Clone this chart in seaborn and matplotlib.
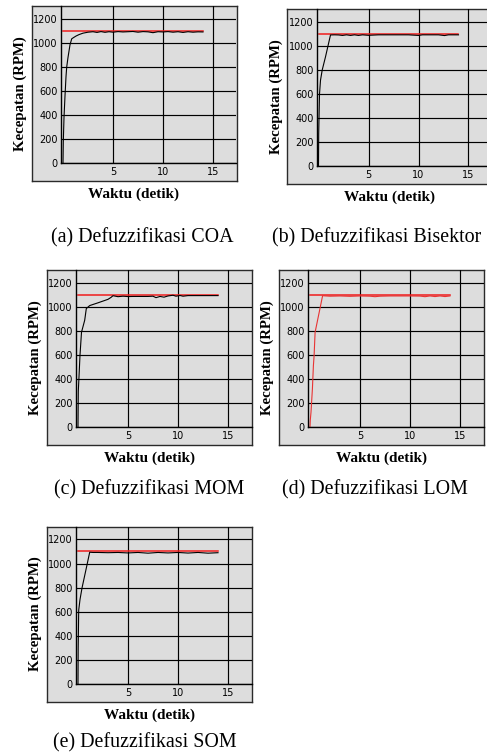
import matplotlib
matplotlib.use("Agg")
import matplotlib.pyplot as plt
import seaborn as sns
import pandas as pd

# ---- measured speed responses (time in s, speed in RPM) ----
t_coa = [0, 0.03, 0.1, 0.2, 0.3, 0.37, 0.5, 0.7, 0.87, 1.05, 1.3, 1.6, 2.0, 2.5,
         3.0, 3.4, 3.8, 4.2, 4.6, 5.0, 5.5, 6.0, 6.5, 7.0, 7.5, 8.0, 8.5, 9.0,
         9.5, 10.0, 10.5, 11.0, 11.5, 12.0, 12.5, 13.0, 13.5, 14.0]
v_coa = [0, 180, 380, 560, 720, 800, 880, 985, 1035, 1045, 1058, 1070, 1082, 1090,
         1094, 1088, 1095, 1089, 1094, 1090, 1095, 1092, 1094, 1096, 1090, 1095, 1093, 1086,
         1094, 1092, 1095, 1090, 1094, 1088, 1094, 1090, 1093, 1092]

t_bis = [0, 0.02, 0.1, 0.2, 0.37, 0.7, 1.2, 1.6, 2.0, 2.4, 2.8, 3.2, 3.6, 4.0,
         4.4, 5.0, 6.0, 7.0, 8.0, 9.0, 10.0, 10.4, 11.0, 12.0, 12.6, 13.0, 14.0]
v_bis = [0, 270, 600, 715, 800, 910, 1092, 1093, 1092, 1088, 1093, 1088, 1093, 1088,
         1093, 1089, 1093, 1093, 1093, 1093, 1088, 1093, 1093, 1093, 1087, 1093, 1093]

t_mom = [0, 0.03, 0.1, 0.2, 0.35, 0.67, 0.83, 1.17, 2.0, 3.0, 3.3, 3.5, 4.0, 4.5,
         5.0, 5.5, 6.0, 6.5, 7.0, 7.5, 7.8, 8.2, 8.6, 9.0, 9.5, 9.8, 10.2, 10.5,
         11.0, 12.0, 13.0, 14.0]
v_mom = [0, 300, 420, 600, 790, 890, 987, 1012, 1035, 1064, 1080, 1094, 1086, 1090,
         1087, 1088, 1088, 1088, 1088, 1090, 1078, 1088, 1082, 1092, 1098, 1090, 1096, 1090,
         1095, 1095, 1095, 1095]

t_lom = [0, 0.03, 0.1, 0.24, 0.34, 0.41, 0.51, 1.26, 2.0, 3.0, 4.0, 5.0, 6.0, 6.5,
         7.0, 8.0, 9.0, 10.0, 11.0, 11.5, 12.0, 12.5, 13.0, 13.5, 14.0]
v_lom = [0, 60, 125, 318, 512, 596, 790, 1094, 1090, 1092, 1089, 1092, 1090, 1086,
         1090, 1092, 1092, 1092, 1091, 1086, 1092, 1087, 1092, 1087, 1092]

t_som = [0, 0.02, 0.07, 0.2, 0.4, 0.8, 1.17, 1.5, 2.0, 3.0, 4.0, 5.0, 6.0, 7.0,
         8.0, 9.0, 10.0, 11.0, 12.0, 13.0, 14.0]
v_som = [0, 300, 611, 700, 796, 950, 1094, 1092, 1092, 1090, 1092, 1088, 1092, 1086,
         1092, 1088, 1092, 1087, 1092, 1086, 1090]

# set point
t_ref = [0, 14]
v_ref = [1100, 1100]

y_ticks = [0, 200, 400, 600, 800, 1000, 1200]
x_ticks = [5, 10, 15]
x_label = "Waktu (detik)"
y_label = "Kecepatan (RPM)"
captions = ["(a) Defuzzifikasi COA", "(b) Defuzzifikasi Bisektor",
            "(c) Defuzzifikasi MOM", "(d) Defuzzifikasi LOM",
            "(e) Defuzzifikasi SOM"]

# ---- layout (pixels) ----
W, H = 487, 755
FW, FH = 205, 175          # grey chart panel
IL, IB = 29.5, 17.8        # plot area offset inside the panel
PX_PER_S = 10.0
Y_TOP = 1308

RED = "#f01c1c"
PANEL_BG = "#dddddd"
SERIF = "Liberation Serif"
SANS = "DejaVu Sans"

panels = [
    (t_coa, v_coa, "black", captions[0], (31.5, 6), (142, 238)),
    (t_bis, v_bis, "black", captions[1], (287, 9), (377, 238)),
    (t_mom, v_mom, "black", captions[2], (46.5, 270), (149, 490)),
    (t_lom, v_lom, "#e83434", captions[3], (278.5, 270), (375, 490)),
    (t_som, v_som, "black", captions[4], (46.5, 526.5), (144.5, 743)),
]

fig = plt.figure(figsize=(W / 100, H / 100), dpi=100)


def rect(left, top, w, h):
    return [left / W, 1 - (top + h) / H, w / W, h / H]


for t, v, ccol, cap, (fl, ft), (cx, cy) in panels:
    # grey outer panel
    fax = fig.add_axes(rect(fl, ft, FW, FH))
    fax.set_facecolor(PANEL_BG)
    fax.set_xticks([])
    fax.set_yticks([])
    for s in fax.spines.values():
        s.set_color("#2a2a2a")
        s.set_linewidth(1.0)

    # plot area
    ax = fig.add_axes(rect(fl + IL, ft, FW - IL, FH - IB))
    ax.patch.set_alpha(0)
    ax.set_axisbelow(True)
    ax.grid(True, color="black", linewidth=0.85)

    sns.lineplot(x=t_ref, y=v_ref, ax=ax, color=RED, linewidth=1.1,
                 estimator=None, sort=False)
    df = pd.DataFrame({"t": t, "v": v})
    sns.lineplot(data=df, x="t", y="v", ax=ax, color=ccol, linewidth=0.8,
                 estimator=None, sort=False)

    ax.set_xlim(-0.2, -0.2 + (FW - IL) / PX_PER_S)
    ax.set_ylim(0, Y_TOP)
    ax.set_xticks(x_ticks)
    ax.set_yticks(y_ticks)
    ax.set_xlabel("")
    ax.set_ylabel("")
    ax.tick_params(length=0, labelsize=7, colors="black")
    ax.tick_params(axis="y", pad=2.2)
    ax.tick_params(axis="x", pad=3)
    for lab in ax.get_xticklabels() + ax.get_yticklabels():
        lab.set_family(SANS)
    for side in ("top", "right"):
        ax.spines[side].set_visible(False)
    for side in ("left", "bottom"):
        ax.spines[side].set_color("black")
        ax.spines[side].set_linewidth(1.0)

    # axis titles and caption
    fig.text((fl + FW / 2) / W, 1 - (ft + FH + 13.5) / H, x_label,
             ha="center", va="center", family=SERIF, fontweight="bold", size=11)
    fig.text((fl - 11) / W, 1 - (ft + FH / 2) / H, y_label, rotation=90,
             ha="center", va="center", family=SERIF, fontweight="bold", size=10.7)
    fig.text(cx / W, 1 - cy / H, cap, ha="center", va="center",
             family=SERIF, size=14.4)

fig.savefig("out.png", dpi=100)
